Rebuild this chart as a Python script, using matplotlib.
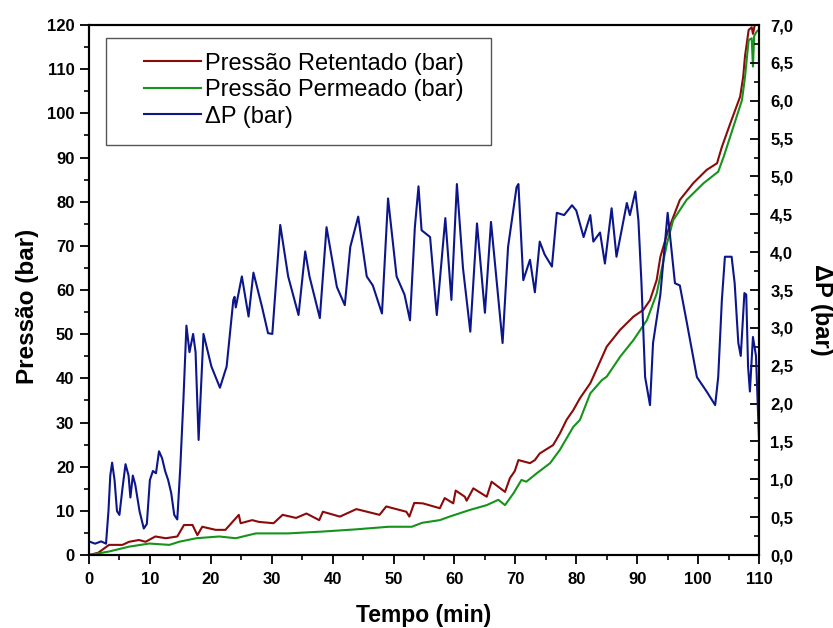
import matplotlib
matplotlib.use("Agg")
import matplotlib.pyplot as plt
from matplotlib.patches import Rectangle
from matplotlib.ticker import MultipleLocator, FuncFormatter

plt.rcParams['font.family'] = ['Liberation Sans', 'DejaVu Sans']

# Pressao Retentado (bar), left axis
t_ret = [0, 1.5, 3.3, 5.5, 6.6, 8.2, 9.3, 10.9, 12.6, 14.5, 15.6, 17.0, 17.8, 18.6, 20.8,
         22.4, 24.6, 24.9, 26.8, 27.9, 30.3, 31.8, 34.0, 35.7, 37.8, 38.4, 41.2, 43.9,
         47.7, 48.8, 52.1, 52.6, 53.4, 54.8, 57.6, 58.4, 59.8, 60.2, 61.7, 62.0, 63.1,
         65.3, 66.1, 68.3, 69.1, 69.9, 70.5, 72.4, 73.2, 74.0, 76.2, 77.3, 78.4, 79.5,
         80.6, 82.3, 82.8, 85, 87.2, 89.4, 91, 92.1, 93.2, 93.8, 95.1, 97, 99.2, 101.4,
         103.1, 103.9, 105.3, 106.9, 107.4, 107.7, 108.3, 108.8, 109, 109.3]
p_ret = [0, 0.5, 2.3, 2.3, 3.0, 3.4, 3.0, 4.2, 3.8, 4.2, 6.8, 6.8, 4.5, 6.4, 5.7,
         5.7, 9.1, 7.2, 7.9, 7.5, 7.2, 9.1, 8.4, 9.4, 7.9, 9.8, 8.7, 10.4,
         9.1, 11.0, 9.8, 8.7, 11.8, 11.7, 10.6, 12.9, 11.7, 14.6, 13.2, 12.3, 15.1,
         13.2, 16.6, 14.3, 17.4, 19.0, 21.5, 20.8, 21.5, 23.0, 24.9, 27.5, 30.6, 32.8,
         35.5, 38.9, 40.4, 47.2, 51, 54, 55.5, 57.7, 62.3, 67.5, 73.6, 80.4, 84.2, 87.2,
         88.7, 92.4, 97.8, 103.8, 108.3, 113, 118.9, 119.5, 118, 120]

# Pressao Permeado (bar), left axis
t_per = [0, 3.3, 6.6, 9.9, 13.2, 14.8, 17.6, 21.4, 24.1, 27.4, 32.7, 38.2, 43.7, 49.2,
         53.0, 54.7, 57.6, 59.2, 62.5, 65.3, 67.2, 68.3, 69.7, 71.0, 71.8, 73.5, 75.7,
         77.3, 79.5, 80.6, 82.3, 84.2, 85, 87.2, 89.4, 91.6, 93.2, 94.9, 95.9, 98.1,
         100.9, 103.3, 104.2, 105.8, 107.2, 107.7, 108.3, 108.8, 109.0, 109.2, 109.6, 110]
p_per = [0, 0.8, 1.9, 2.6, 2.3, 3.0, 3.8, 4.2, 3.8, 4.9, 4.9, 5.3, 5.8, 6.4,
         6.4, 7.3, 7.9, 8.7, 10.2, 11.3, 12.5, 11.3, 14.0, 17.0, 16.6, 18.5, 20.8,
         23.8, 29.0, 30.6, 36.6, 39.6, 40.4, 44.9, 48.7, 53.2, 59.2, 70.6, 75.8, 80.4,
         84.2, 86.8, 90.2, 97, 103, 108.3, 116.6, 117, 110.6, 117.5, 118.5, 119]

# Delta P (bar), right axis
t_dp = [0, 1, 2, 2.8, 3.2, 3.5, 3.8, 4.2, 4.6, 5, 5.5, 6, 6.5, 6.8, 7.2, 7.6, 8.3, 9, 9.5,
        10, 10.5, 11, 11.5, 12, 12.5, 13, 13.5, 14, 14.5, 15, 15.5, 16, 16.5, 17.1, 17.5,
        18, 18.3, 18.8, 20.1, 21.5, 22.6, 23.7, 23.9, 24.1, 25.1, 26.2, 27.0, 28.4, 29.4,
        30.1, 31.4, 32.7, 34.4, 35.5, 36.2, 37.9, 39.0, 40.7, 42.0, 42.9, 44.2, 45.6,
        46.6, 48.1, 49.1, 50.5, 51.8, 52.7, 53.5, 54.1, 54.6, 56, 57.1, 58.5, 59.5, 60.4,
        61.4, 62.6, 63.7, 65, 66, 67.9, 68.8, 70.2, 70.5, 71.3, 72.4, 73.2, 74, 74.8, 76,
        76.8, 78, 79.3, 80, 81.2, 82.3, 82.8, 83.9, 84.7, 85.8, 86.6, 88.3, 88.8, 89.7,
        90.2, 90.7, 91.3, 92.1, 92.6, 93.8, 95, 96.2, 97, 98.1, 99.8, 101.4, 102.8, 103.3,
        103.9, 104.4, 105.5, 106, 106.6, 107, 107.6, 107.9, 108.2, 108.5, 109, 109.5, 110]
dp = [0.18, 0.15, 0.18, 0.15, 0.58, 1.05, 1.22, 0.99, 0.58, 0.53, 0.88, 1.20, 1.05, 0.76,
      1.05, 0.93, 0.58, 0.35, 0.41, 0.99, 1.11, 1.08, 1.37, 1.28, 1.11, 0.99, 0.82, 0.53,
      0.47, 1.17, 2.04, 3.03, 2.68, 2.92, 2.68, 1.52, 2.04, 2.92, 2.49, 2.21, 2.49, 3.37,
      3.41, 3.27, 3.68, 3.15, 3.73, 3.28, 2.93, 2.92, 4.36, 3.68, 3.17, 4.01, 3.68, 3.13,
      4.33, 3.54, 3.30, 4.07, 4.47, 3.68, 3.56, 3.19, 4.71, 3.68, 3.44, 3.10, 4.33, 4.87,
      4.29, 4.20, 3.17, 4.45, 3.37, 4.90, 3.79, 2.95, 4.38, 3.20, 4.40, 2.80, 4.07, 4.86,
      4.90, 3.63, 3.90, 3.47, 4.14, 3.97, 3.81, 4.52, 4.49, 4.62, 4.55, 4.20, 4.49, 4.14,
      4.26, 3.85, 4.58, 3.94, 4.65, 4.49, 4.80, 4.42, 3.59, 2.35, 1.98, 2.80, 3.44, 4.52,
      3.59, 3.56, 3.09, 2.35, 2.16, 1.98, 2.35, 3.37, 3.94, 3.94, 3.59, 2.80, 2.63, 3.46,
      3.44, 2.49, 2.16, 2.88, 2.63, 1.52]

fig = plt.figure(figsize=(8.33, 6.28), dpi=100)
ax = fig.add_axes([0.1068, 0.1162, 0.8044, 0.8439])
ax2 = ax.twinx()

l1, = ax.plot(t_ret, p_ret, color='#8b0a0a', lw=1.5, label='Pressão Retentado (bar)')
l2, = ax.plot(t_per, p_per, color='#15931a', lw=1.5, label='Pressão Permeado (bar)')
l3, = ax2.plot(t_dp, dp, color='#0c168a', lw=1.5, label='ΔP (bar)')

ax.set_xlim(0, 110)
ax.set_ylim(0, 120)
ax2.set_ylim(0, 7)

ax.xaxis.set_major_locator(MultipleLocator(10))
ax.xaxis.set_minor_locator(MultipleLocator(5))
ax.yaxis.set_major_locator(MultipleLocator(10))
ax.yaxis.set_minor_locator(MultipleLocator(5))
ax2.yaxis.set_major_locator(MultipleLocator(0.5))
ax2.yaxis.set_minor_locator(MultipleLocator(0.25))
ax2.yaxis.set_major_formatter(FuncFormatter(lambda v, p: f"{v:.1f}".replace('.', ',')))

ax.tick_params(axis='x', which='major', direction='out', length=6.5, width=1.3,
               labelsize=12, pad=6)
ax.tick_params(axis='y', which='major', direction='out', length=6.5, width=1.3,
               labelsize=12, pad=4)
ax.tick_params(axis='both', which='minor', direction='out', length=3.5, width=1.2)
ax2.tick_params(axis='y', which='major', direction='in', length=6.5, width=1.3,
                labelsize=12, pad=8)
ax2.tick_params(axis='y', which='minor', direction='in', length=3.5, width=1.2)

for a in (ax, ax2):
    for lab in a.get_xticklabels() + a.get_yticklabels():
        lab.set_fontweight('bold')
    for s in a.spines.values():
        s.set_linewidth(1.5)

ax.set_xlabel('Tempo (min)', fontsize=16.5, fontweight='bold', va='center')
ax.xaxis.set_label_coords(0.5, -0.114)
ax.set_ylabel('Pressão (bar)', fontsize=17.5, fontweight='bold', va='center')
ax.yaxis.set_label_coords(-0.092, 0.47)
ax2.set_ylabel('ΔP (bar)', fontsize=17, fontweight='bold', rotation=270,
               va='center', ha='center')
ax2.yaxis.set_label_coords(1.093, 0.462)

# legend frame and entries
ax2.add_patch(Rectangle((0.0254, 0.7736), 0.5746, 0.2019, transform=ax2.transAxes,
                        facecolor='white', edgecolor='#555555', lw=1.0, zorder=4))
leg = ax2.legend(handles=[l1, l2, l3], loc='upper left', bbox_to_anchor=(0.082, 0.948),
                 borderaxespad=0, borderpad=0, fontsize=17, frameon=False,
                 handlelength=2.4, handletextpad=0.2, labelspacing=0.19)
leg.set_zorder(5)

fig.savefig('out.png', dpi=100)
